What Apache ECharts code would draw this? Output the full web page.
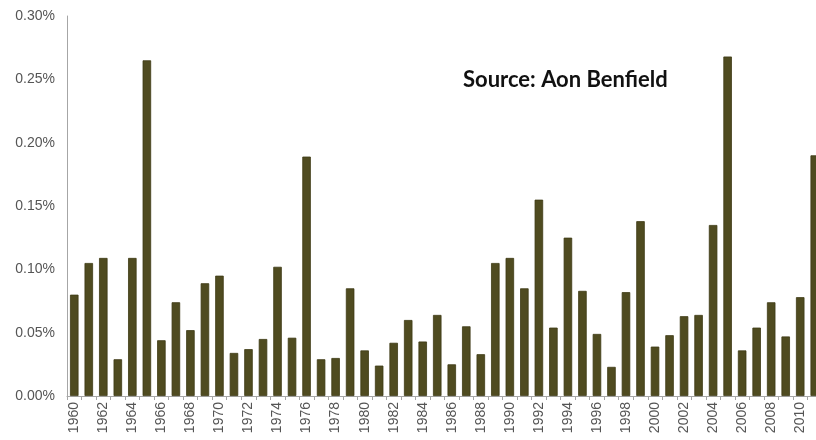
<!DOCTYPE html>
<html>
<head>
<meta charset="utf-8">
<script src="https://cdn.jsdelivr.net/npm/echarts@6/dist/echarts.min.js"></script>
<style>
html,body{margin:0;padding:0;background:#fff;overflow:hidden;}
#chart{width:822px;height:440px;}
</style>
</head>
<body>
<div id="chart"></div>
<script>
// Years 1960..2011
const years = ['1960','1961','1962','1963','1964','1965','1966','1967','1968','1969',
  '1970','1971','1972','1973','1974','1975','1976','1977','1978','1979',
  '1980','1981','1982','1983','1984','1985','1986','1987','1988','1989',
  '1990','1991','1992','1993','1994','1995','1996','1997','1998','1999',
  '2000','2001','2002','2003','2004','2005','2006','2007','2008','2009',
  '2010','2011'];
// Values in percent
const values = [0.080,0.105,0.109,0.029,0.109,0.265,0.044,0.074,0.052,0.089,
  0.095,0.034,0.037,0.045,0.102,0.046,0.189,0.029,0.030,0.085,
  0.036,0.024,0.042,0.060,0.043,0.064,0.025,0.055,0.033,0.105,
  0.109,0.085,0.155,0.054,0.125,0.083,0.049,0.023,0.082,0.138,
  0.039,0.048,0.063,0.064,0.135,0.268,0.036,0.054,0.074,0.047,
  0.078,0.190];
const sourceText = 'Source: Aon Benfield';

const chart = echarts.init(document.getElementById('chart'), null, {renderer:'canvas'});
chart.setOption({
  animation: false,
  backgroundColor: '#ffffff',
  title: {
    text: sourceText,
    left: 458, top: 64,
    textStyle: {fontFamily: 'Lato', fontWeight: 'bold', fontSize: 22, color: '#111111'}
  },
  grid: {left: 67, right: 0, top: 16, bottom: 44, containLabel: false},
  xAxis: {
    type: 'category',
    data: years,
    boundaryGap: true,
    axisLine: {show: true, lineStyle: {color: '#a6a6a6', width: 1}},
    axisTick: {show: true, interval: 0, length: 4, lineStyle: {color: '#a6a6a6'}},
    axisLabel: {interval: 1, rotate: 90, margin: 6, fontFamily: 'Arial, Liberation Sans', fontSize: 14, color: '#555555'}
  },
  yAxis: {
    type: 'value',
    min: 0, max: 0.3, interval: 0.05,
    axisLine: {show: true, lineStyle: {color: '#a6a6a6', width: 1}},
    axisTick: {show: false},
    splitLine: {show: false},
    axisLabel: {margin: 12, fontFamily: 'Arial, Liberation Sans', fontSize: 14, color: '#555555',
      formatter: v => v.toFixed(2) + '%'}
  },
  series: [{
    type: 'bar',
    data: values,
    barWidth: 8.5,
    itemStyle: {color: '#4f4b20', borderColor: '#3e3a14', borderWidth: 0.8}
  }]
});
</script>
</body>
</html>
